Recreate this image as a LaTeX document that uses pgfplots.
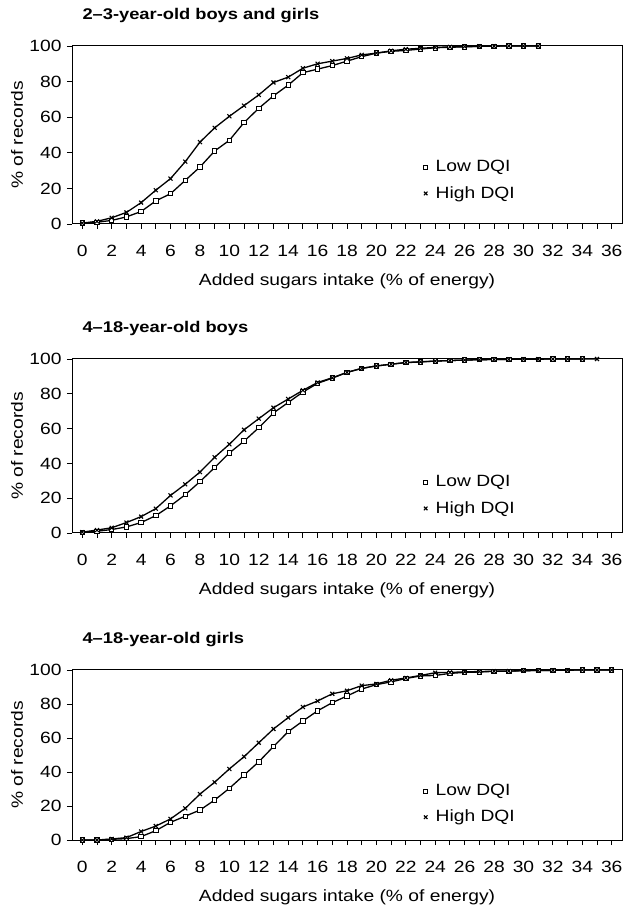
\documentclass[border=0pt]{standalone}
\usepackage{fontspec}
\setmainfont{Liberation Sans}[FakeStretch=1.18]
\usepackage{pgfplots}
\pgfplotsset{compat=1.18}
\begin{document}
\fontsize{16}{19}\selectfont
\begin{tikzpicture}[x=1pt,y=1pt]
\useasboundingbox (0,0) rectangle (626,907);
\pgfplotsset{
  panel/.style={
    scale only axis, width=550pt, anchor=south west,
    xmin=-0.7, xmax=36.7, ymin=0, ymax=100,
    xtick={0,2,...,36}, minor xtick={1,3,...,35},
    ytick={0,20,...,100},
    xtick pos=bottom, ytick pos=left, tick align=outside,
    major tick length=5pt, minor tick length=5pt,
    every tick/.style={black, line width=0.9pt},
    axis line style={line width=1pt},
    /pgf/number format/assume math mode=true,
    tick label style={font=\fontsize{16.3}{19}\selectfont},
    xticklabel style={yshift=-11pt},
    xlabel={Added sugars intake (\% of energy)},
    ylabel={\% of records},
    label style={font=\fontsize{16.3}{19}\selectfont},
    xlabel style={at={(axis description cs:0.5,0)}, anchor=center, yshift=-57pt},
    ylabel style={at={(axis description cs:-0.1,0.5)}, anchor=center},
    title style={at={(axis description cs:0,1)}, anchor=base west, xshift=5pt, yshift=20.5pt, font=\bfseries\fontsize{15.5}{19}\selectfont},
    legend style={draw=none, fill=none, anchor=west, row sep=8pt, font=\fontsize{16.3}{19}\selectfont},
    legend cell align=left,
  },
  lowdqi/.style={black, line width=1.3pt, mark=square*, mark size=2.2pt, mark options={solid, line width=0.9pt, fill=white}},
  highdqi/.style={black, line width=1.3pt, mark=x, mark size=2.8pt, mark options={solid, line width=1.1pt}},
  lowleg/.style={legend image code/.code={%
    \path[draw=none, fill=none] (-2pt,-3pt) rectangle (10pt,3pt);
    \draw[black, line width=0.9pt, fill=white, mark size=2pt] plot[only marks, mark=square*] coordinates {(2pt,0pt)};}},
  highleg/.style={legend image code/.code={%
    \path[draw=none, fill=none] (-2pt,-3pt) rectangle (10pt,3pt);
    \draw[black, line width=1.1pt, mark size=2.5pt] plot[only marks, mark=x] coordinates {(2pt,0pt)};}},
}

% ---------------- Panel 1 ----------------
\begin{axis}[panel, at={(72pt,683pt)}, height=178pt,
  title={2--3-year-old boys and girls},
  legend style={at={(rel axis cs:0.63,0.244)}}]
\addplot[lowdqi, forget plot] coordinates {
(0,0.5)(1,1)(2,2)(3,4)(4,7)(5,13)(6,17)(7,24.5)(8,32)(9,41)(10,47)(11,57)(12,65)(13,72)(14,78)(15,85)(16,87)(17,89)(18,91.5)(19,94)(20,96)(21,97)(22,97.5)(23,98.3)(24,99)(25,99.3)(26,99.5)(27,99.8)(28,99.9)(29,100)(30,100)(31,100)};
\addplot[highdqi, forget plot] coordinates {
(0,0.5)(1,1.5)(2,3.5)(3,6.5)(4,12)(5,19)(6,25.5)(7,35)(8,46)(9,54)(10,60.5)(11,66.5)(12,72.5)(13,79.5)(14,82.5)(15,87.5)(16,90)(17,91.5)(18,93)(19,95)(20,96)(21,97.3)(22,98.2)(23,98.7)(24,99.2)(25,99.5)(26,99.7)(27,99.8)(28,99.9)(29,100)(30,100)(31,100)};
\addlegendimage{lowleg}
\addlegendentry{Low DQI}
\addlegendimage{highleg}
\addlegendentry{High DQI}
\end{axis}

% ---------------- Panel 2 ----------------
\begin{axis}[panel, at={(72pt,374pt)}, height=174pt,
  title={4--18-year-old boys},
  legend style={at={(rel axis cs:0.63,0.215)}}]
\addplot[lowdqi, forget plot] coordinates {
(0,0.3)(1,1)(2,2)(3,3.5)(4,6)(5,10)(6,15.6)(7,22)(8,29.5)(9,37.6)(10,46)(11,52.8)(12,60.5)(13,69)(14,75)(15,81)(16,86)(17,89)(18,92.3)(19,94.6)(20,96)(21,97)(22,97.9)(23,98.3)(24,98.8)(25,99.1)(26,99.4)(27,99.6)(28,99.7)(29,99.8)(30,99.9)(31,99.9)(32,100)(33,100)(34,100)};
\addplot[highdqi, forget plot] coordinates {
(0,0.5)(1,1.7)(2,3)(3,6)(4,9.4)(5,14)(6,21.6)(7,28)(8,35)(9,43.5)(10,51)(11,59.3)(12,65.7)(13,72)(14,77)(15,82)(16,86.5)(17,89.2)(18,92.3)(19,94.6)(20,96)(21,97)(22,98)(23,98.4)(24,98.8)(25,99.1)(26,99.4)(27,99.6)(28,99.7)(29,99.8)(30,99.9)(31,99.9)(32,100)(33,100)(34,100)(35,100)};
\addlegendimage{lowleg}
\addlegendentry{Low DQI}
\addlegendimage{highleg}
\addlegendentry{High DQI}
\end{axis}

% ---------------- Panel 3 ----------------
\begin{axis}[panel, at={(72pt,67pt)}, height=170pt,
  title={4--18-year-old girls},
  legend style={at={(rel axis cs:0.63,0.21)}}]
\addplot[lowdqi, forget plot] coordinates {
(0,0)(1,0)(2,0.4)(3,0.8)(4,2)(5,5.5)(6,10.4)(7,14)(8,17.6)(9,23.5)(10,30.4)(11,38.2)(12,46)(13,55)(14,63.7)(15,70)(16,76)(17,80.8)(18,84.7)(19,88.8)(20,91.4)(21,93)(22,95)(23,96.5)(24,96.8)(25,98)(26,98.6)(27,98.8)(28,99.2)(29,99.3)(30,99.6)(31,99.7)(32,99.8)(33,99.9)(34,100)(35,100)(36,100)};
\addplot[highdqi, forget plot] coordinates {
(0,0)(1,0)(2,0.6)(3,1.4)(4,5)(5,8.2)(6,12.4)(7,18.6)(8,27)(9,34)(10,41.8)(11,49)(12,57.2)(13,65.3)(14,72)(15,78.2)(16,81.8)(17,86)(18,87.8)(19,90.8)(20,91.8)(21,94)(22,95.3)(23,96.8)(24,98.4)(25,98.6)(26,98.9)(27,99.1)(28,99.3)(29,99.4)(30,99.6)(31,99.7)(32,99.8)(33,99.9)(34,100)(35,100)(36,100)};
\addlegendimage{lowleg}
\addlegendentry{Low DQI}
\addlegendimage{highleg}
\addlegendentry{High DQI}
\end{axis}
\end{tikzpicture}
\end{document}
